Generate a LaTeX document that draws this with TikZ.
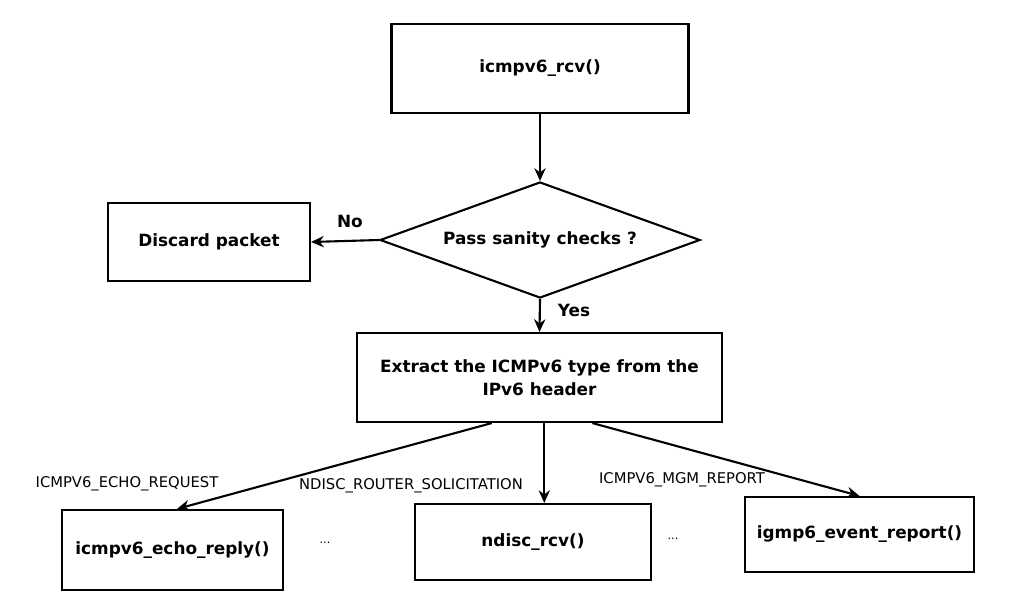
\documentclass[tikz,border=0pt]{standalone}
\usepackage{fontspec}
\setmainfont{DejaVu Sans}
\usepackage{tikz}
\usetikzlibrary{calc}
\usetikzlibrary{arrows.meta,shapes.geometric}

\begin{document}
\begin{tikzpicture}[x=0.025cm, y=-0.025cm,
	procbox/.style={rectangle, draw=black, line width=1.5pt, align=center, font=\bfseries\fontsize{12}{16.4}\selectfont},
	decision/.style={diamond, aspect=2.76, draw=black, line width=1.5pt, inner sep=0pt, minimum width=8cm, minimum height=2.9cm, font=\bfseries\fontsize{12}{16.4}\selectfont},
	flow/.style={line width=1.5pt, -{Stealth[length=9pt,width=8pt]}},
	caselabel/.style={font=\fontsize{10.5}{12}\selectfont},
	answer/.style={font=\bfseries\fontsize{12}{14}\selectfont}]
			\useasboundingbox (0,0) rectangle (1019,613);

			\node[procbox, minimum width=7.425cm, minimum height=2.225cm] (rcv) at (540,68.5) {icmpv6\_rcv()};
			\node[decision] (check) at ($(rcv)+(0,171.5)$) {Pass sanity checks ?};
			\node[procbox, minimum width=5.05cm, minimum height=1.95cm] (discard) at ($(check)+(-331,2)$) {Discard packet};
			\node[procbox, minimum width=9.125cm, minimum height=2.225cm] (extract) at ($(check)+(-0.5,137.5)$) {Extract the ICMPv6 type from the\\IPv6 header};

			%three of the handlers, the rest are left out (...)
			\node[procbox, minimum width=5.525cm, minimum height=2cm] (echo) at ($(extract)+(-367,172.5)$) {icmpv6\_echo\_reply()};
			\node[procbox, minimum width=5.9cm, minimum height=1.9cm] (ndisc) at ($(extract)+(-6.5,164.5)$) {ndisc\_rcv()};
			\node[procbox, minimum width=5.725cm, minimum height=1.875cm] (igmp) at ($(extract)+(320,157)$) {igmp6\_event\_report()};

			\node (dots1) at ($(echo)+(152.5,-7)$) {\footnotesize ...};
			\node (dots2) at ($(ndisc)+(140,-3)$) {\footnotesize ...};

			\coordinate (out1) at ($(extract.south west)!0.37!(extract.south east)$);
			\coordinate (out2) at ($(extract.south west)!0.513!(extract.south east)$);
			\coordinate (out3) at ($(extract.south west)!0.644!(extract.south east)$);

			\draw[flow] (rcv.south) -- (check.north);
			\draw[flow] (check.west) -- (discard.east);
			\draw[flow] (check.south) -- (extract.north);
			\draw[flow] (out1) -- ($(echo.north)+(4.5,0)$);
			\draw[flow] (out2) -- (out2 |- ndisc.north);
			\draw[flow] (out3) -- (igmp.north);

			\node[answer] (no) at ($(check.west)+(-29,-19)$) {No};
			\node[answer] (yes) at ($(check.south)+(34,11)$) {Yes};

			\node[caselabel] (l1) at ($(echo.north)+(-45.5,-25)$) {ICMPV6\_ECHO\_REQUEST};
			\node[caselabel] (l2) at ($(ndisc.north)+(-122,-17)$) {NDISC\_ROUTER\_SOLICITATION};
			\node[caselabel] (l3) at ($(igmp.north)+(-177.5,-16)$) {ICMPV6\_MGM\_REPORT};

		\end{tikzpicture}
\end{document}
